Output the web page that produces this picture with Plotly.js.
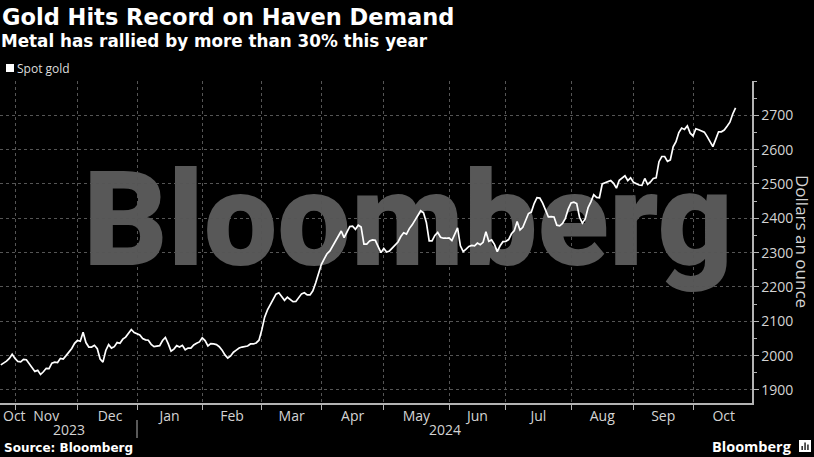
<!DOCTYPE html>
<html><head><meta charset="utf-8">
<script src="https://cdn.plot.ly/plotly-3.0.1.min.js"></script>
<style>html,body{margin:0;padding:0;background:#000;}#chart{width:814px;height:457px;}</style>
</head><body><div id="chart"></div>
<script>
// ---- data (business-day closes) ----
const dates = [
 '2023-10-25','2023-10-26','2023-10-27','2023-10-30','2023-10-31',
 '2023-11-01','2023-11-02','2023-11-03','2023-11-06','2023-11-07','2023-11-08','2023-11-09','2023-11-10','2023-11-13','2023-11-14','2023-11-15','2023-11-16','2023-11-17','2023-11-20','2023-11-21','2023-11-22','2023-11-23','2023-11-24','2023-11-27','2023-11-28','2023-11-29','2023-11-30',
 '2023-12-01','2023-12-04','2023-12-05','2023-12-06','2023-12-07','2023-12-08','2023-12-11','2023-12-12','2023-12-13','2023-12-14','2023-12-15','2023-12-18','2023-12-19','2023-12-20','2023-12-21','2023-12-22','2023-12-25','2023-12-26','2023-12-27','2023-12-28','2023-12-29',
 '2024-01-01','2024-01-02','2024-01-03','2024-01-04','2024-01-05','2024-01-08','2024-01-09','2024-01-10','2024-01-11','2024-01-12','2024-01-15','2024-01-16','2024-01-17','2024-01-18','2024-01-19','2024-01-22','2024-01-23','2024-01-24','2024-01-25','2024-01-26','2024-01-29','2024-01-30','2024-01-31',
 '2024-02-01','2024-02-02','2024-02-05','2024-02-06','2024-02-07','2024-02-08','2024-02-09','2024-02-12','2024-02-13','2024-02-14','2024-02-15','2024-02-16','2024-02-19','2024-02-20','2024-02-21','2024-02-22','2024-02-23','2024-02-26','2024-02-27','2024-02-28','2024-02-29',
 '2024-03-01','2024-03-04','2024-03-05','2024-03-06','2024-03-07','2024-03-08','2024-03-11','2024-03-12','2024-03-13','2024-03-14','2024-03-15','2024-03-18','2024-03-19','2024-03-20','2024-03-21','2024-03-22','2024-03-25','2024-03-26','2024-03-27','2024-03-28','2024-03-29',
 '2024-04-01','2024-04-02','2024-04-03','2024-04-04','2024-04-05','2024-04-08','2024-04-09','2024-04-10','2024-04-11','2024-04-12','2024-04-15','2024-04-16','2024-04-17','2024-04-18','2024-04-19','2024-04-22','2024-04-23','2024-04-24','2024-04-25','2024-04-26','2024-04-29','2024-04-30',
 '2024-05-01','2024-05-02','2024-05-03','2024-05-06','2024-05-07','2024-05-08','2024-05-09','2024-05-10','2024-05-13','2024-05-14','2024-05-15','2024-05-16','2024-05-17','2024-05-20','2024-05-21','2024-05-22','2024-05-23','2024-05-24','2024-05-27','2024-05-28','2024-05-29','2024-05-30','2024-05-31',
 '2024-06-03','2024-06-04','2024-06-05','2024-06-06','2024-06-07','2024-06-10','2024-06-11','2024-06-12','2024-06-13','2024-06-14','2024-06-17','2024-06-18','2024-06-19','2024-06-20','2024-06-21','2024-06-24','2024-06-25','2024-06-26','2024-06-27','2024-06-28',
 '2024-07-01','2024-07-02','2024-07-03','2024-07-04','2024-07-05','2024-07-08','2024-07-09','2024-07-10','2024-07-11','2024-07-12','2024-07-15','2024-07-16','2024-07-17','2024-07-18','2024-07-19','2024-07-22','2024-07-23','2024-07-24','2024-07-25','2024-07-26','2024-07-29','2024-07-30','2024-07-31',
 '2024-08-01','2024-08-02','2024-08-05','2024-08-06','2024-08-07','2024-08-08','2024-08-09','2024-08-12','2024-08-13','2024-08-14','2024-08-15','2024-08-16','2024-08-19','2024-08-20','2024-08-21','2024-08-22','2024-08-23','2024-08-26','2024-08-27','2024-08-28','2024-08-29','2024-08-30',
 '2024-09-02','2024-09-03','2024-09-04','2024-09-05','2024-09-06','2024-09-09','2024-09-10','2024-09-11','2024-09-12','2024-09-13','2024-09-16','2024-09-17','2024-09-18','2024-09-19','2024-09-20','2024-09-23','2024-09-24','2024-09-25','2024-09-26','2024-09-27','2024-09-30',
 '2024-10-01','2024-10-02','2024-10-03','2024-10-04','2024-10-07','2024-10-08','2024-10-09','2024-10-10','2024-10-11','2024-10-14','2024-10-15','2024-10-16','2024-10-17','2024-10-18','2024-10-21','2024-10-22'
];
const spotGold = [
 1973,1978,1984,1992,2004,
 1992,1983,1982,1989,1988,1976,1967,1954,1957,1945,1953,1963,1962,1978,1981,1980,1992,1990,2000,2009,2021,2036,
 2044,2042,2068,2038,2025,2025,2030,2020,1990,1981,2015,2032,2022,2026,2038,2036,2048,2054,2064,2076,2067,
 2063,2060,2050,2046,2045,2033,2026,2028,2029,2044,2053,2035,2013,2019,2029,2025,2030,2017,2022,2022,2031,2036,2040,
 2052,2044,2028,2035,2034,2032,2026,2016,2002,1993,1999,2010,2016,2022,2025,2026,2028,2034,2034,2037,2045,
 2075,2112,2133,2149,2165,2179,2183,2172,2161,2170,2162,2157,2158,2168,2180,2183,2177,2177,2189,2212,2237,
 2266,2282,2297,2305,2319,2335,2351,2363,2344,2359,2376,2377,2368,2380,2375,2325,2325,2334,2337,2336,2318,2300,
 2312,2302,2305,2314,2322,2331,2347,2358,2354,2370,2381,2395,2411,2422,2416,2388,2334,2334,2350,2359,2345,2342,2342,
 2343,2335,2353,2372,2320,2303,2310,2318,2321,2320,2328,2323,2330,2361,2333,2337,2324,2303,2320,2332,
 2333,2338,2355,2364,2391,2366,2374,2393,2414,2418,2443,2460,2459,2444,2425,2404,2405,2404,2380,2378,2385,2400,2427,
 2445,2447,2443,2403,2386,2398,2431,2448,2469,2461,2460,2500,2504,2508,2510,2502,2488,2511,2517,2524,2510,2518,
 2505,2501,2497,2496,2516,2499,2506,2516,2518,2565,2580,2580,2566,2570,2608,2623,2650,2663,2659,2669,2648,
 2640,2661,2658,2654,2651,2638,2622,2609,2630,2652,2652,2657,2668,2680,2704,2722
];
const monthLabels = ['Oct','Nov','Dec','Jan','Feb','Mar','Apr','May','Jun','Jul','Aug','Sep','Oct'];
const monthLabelDates = ['2023-10-31 18:00','2023-11-16','2023-12-18 12:00','2024-01-16 12:00','2024-02-15 12:00','2024-03-15 12:00','2024-04-16','2024-05-16 12:00','2024-06-17','2024-07-16 12:00','2024-08-16','2024-09-16 12:00','2024-10-15 20:00'];
const monthStarts = ['2023-11-01','2023-12-01','2024-01-01','2024-02-01','2024-03-01','2024-04-01','2024-05-01','2024-06-03','2024-07-01','2024-08-01','2024-09-02','2024-10-01'];
const yTicks = [1900,2000,2100,2200,2300,2400,2500,2600,2700];
const yMinorTicks = [1950,2050,2150,2250,2350,2450,2550,2650,2750,2800];
const yearLabels = ['2023','2024'];

// ---- layout helpers ----
const W = 814, H = 457;
const M = {l:0, r:62, t:81, b:54};
const PW = W - M.l - M.r, PH = H - M.t - M.b;
const px = x => (x - M.l) / PW;
const py = y => (H - M.b - y) / PH;
const axisGrey = '#b3b3b3', labelGrey = '#d4d4d4', gridGrey = '#555555';

const trace = {
  x: dates, y: spotGold, type: 'scatter', mode: 'lines', name: 'Spot gold',
  line: {color: '#ffffff', width: 1.7}, showlegend: false, hoverinfo: 'skip'
};

const ann = (text, x, y, opts) => Object.assign({
  text, x: px(x), y: py(y), xref: 'paper', yref: 'paper', showarrow: false,
  xanchor: 'left', yanchor: 'middle'
}, opts);

const layout = {
  width: W, height: H, margin: M,
  paper_bgcolor: '#000000', plot_bgcolor: 'rgba(0,0,0,0)',
  font: {family: 'Open Sans', color: labelGrey},
  showlegend: false,
  title: {
    text: 'Gold Hits Record on Haven Demand',
    font: {family: 'DejaVu Sans', size: 22.5, color: '#ffffff', weight: 700},
    xref: 'container', yref: 'container', x: 2 / W, xanchor: 'left',
    y: 1 - 16.7 / H, yanchor: 'middle'
  },
  xaxis: {
    type: 'date', range: ['2023-10-24 17:00', '2024-10-29 19:00'],
    rangebreaks: [{bounds: ['sat', 'mon']}],
    tickmode: 'array', tickvals: monthLabelDates, ticktext: monthLabels,
    ticks: '', showgrid: false, zeroline: false,
    showline: true, linecolor: axisGrey, linewidth: 1.5,
    tickfont: {family: 'Open Sans', size: 14, color: labelGrey},
    minor: {tickmode: 'array', tickvals: monthStarts, ticks: 'outside', ticklen: 5,
            tickcolor: axisGrey, tickwidth: 1, showgrid: true, gridcolor: gridGrey,
            griddash: 'dot', gridwidth: 1},
    fixedrange: true
  },
  yaxis: {
    side: 'right', range: [1862, 2800],
    tickmode: 'array', tickvals: yTicks,
    ticks: 'outside', ticklen: 5, tickcolor: axisGrey, tickwidth: 1,
    showline: true, linecolor: axisGrey, linewidth: 1.5,
    showgrid: true, gridcolor: gridGrey, griddash: 'dot', gridwidth: 1, zeroline: false,
    tickfont: {family: 'Open Sans', size: 14, color: labelGrey},
    minor: {tickmode: 'array', tickvals: yMinorTicks, ticks: 'outside', ticklen: 3,
            tickcolor: axisGrey, tickwidth: 1, showgrid: false},
    fixedrange: true
  },
  shapes: [
    // watermark
    {type: 'rect', xref: 'paper', yref: 'paper', x0: px(86), x1: px(730), y0: py(258), y1: py(163),
     layer: 'below', line: {width: 0}, fillcolor: 'rgba(0,0,0,0)',
     label: {text: 'Bloomberg', textposition: 'middle center',
             font: {family: 'Roboto', size: 131, color: '#585858', weight: 900}}},
    // legend swatch
    {type: 'rect', xref: 'paper', yref: 'paper', x0: px(6), x1: px(14), y0: py(72), y1: py(64),
     fillcolor: '#ffffff', line: {width: 0}},
    // year separator
    {type: 'line', xref: 'x', yref: 'paper', x0: '2024-01-01', x1: '2024-01-01', y0: py(420), y1: py(438),
     line: {color: axisGrey, width: 1}},
    // logo icon
    {type: 'rect', xref: 'paper', yref: 'paper', x0: px(799), x1: px(811), y0: py(452), y1: py(440),
     fillcolor: '#ffffff', line: {width: 0}},
    {type: 'rect', xref: 'paper', yref: 'paper', x0: px(801.5), x1: px(802.8), y0: py(450), y1: py(446),
     fillcolor: '#000000', line: {width: 0}},
    {type: 'rect', xref: 'paper', yref: 'paper', x0: px(804.4), x1: px(805.7), y0: py(450), y1: py(442.5),
     fillcolor: '#000000', line: {width: 0}},
    {type: 'rect', xref: 'paper', yref: 'paper', x0: px(807.3), x1: px(808.6), y0: py(450), y1: py(444.5),
     fillcolor: '#000000', line: {width: 0}}
  ],
  annotations: [
    ann('Metal has rallied by more than 30% this year', -1, 41.5,
        {font: {family: 'DejaVu Sans', size: 16.8, color: '#ffffff', weight: 700}}),
    ann('Spot gold', 15, 68, {font: {family: 'Open Sans', size: 12, color: '#dddddd'}}),
    ann('Source: Bloomberg', 2, 448, {font: {family: 'DejaVu Sans', size: 12, color: '#ffffff', weight: 700}}),
    ann('Bloomberg', 794, 446, {xanchor: 'right', font: {family: 'Open Sans', size: 14.5, color: '#ffffff', weight: 700}}),
    ann(yearLabels[0], 68.5, 429, {xanchor: 'center', font: {family: 'Open Sans', size: 14, color: labelGrey}}),
    ann(yearLabels[1], 444.5, 429, {xanchor: 'center', font: {family: 'Open Sans', size: 14, color: labelGrey}}),
    ann('Dollars an ounce', 803, 241, {xanchor: 'center', textangle: 90,
        font: {family: 'Open Sans', size: 17, color: labelGrey}})
  ]
};

Plotly.newPlot('chart', [trace], layout, {displayModeBar: false, staticPlot: true});
</script>
</body></html>
